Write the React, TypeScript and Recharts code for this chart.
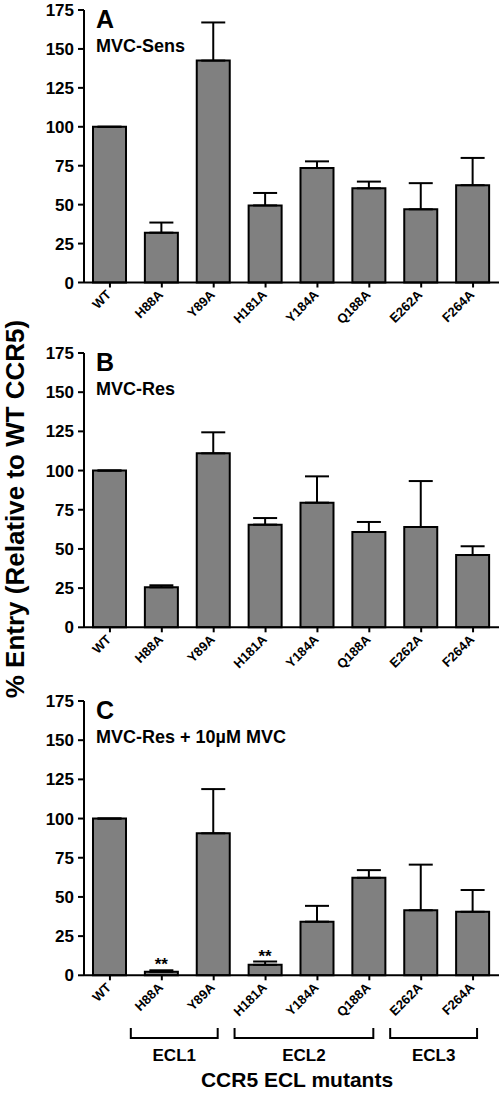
import { BarChart, Bar, XAxis, YAxis, ErrorBar, LabelList } from 'recharts'

const FONT = '"Liberation Sans", Arial, Helvetica, sans-serif'

const MUTANTS = ['WT', 'H88A', 'Y89A', 'H181A', 'Y184A', 'Q188A', 'E262A', 'F264A']
const SENS_MEAN = [100, 32, 142.5, 49.5, 73.5, 60.5, 47, 62.5]
const SENS_SEM = [0, 6.5, 24.5, 8, 4.3, 4.3, 16.8, 17.5]
const RES_MEAN = [100, 25.5, 111, 65.5, 79.5, 60.8, 64, 46.1]
const RES_SEM = [0, 1.3, 13.4, 4.2, 16.8, 6.4, 29.3, 5.6]
const MVC_MEAN = [100, 2.2, 90.6, 6.7, 34.2, 62.2, 41.5, 40.5]
const MVC_SEM = [0, 1, 28.2, 2.1, 10.1, 4.9, 29.1, 13.9]
const MVC_SIG = ['', '**', '', '**', '', '', '', '']
const Y_TICKS = [0, 25, 50, 75, 100, 125, 150, 175]
const LOOP_NAMES = ['ECL1', 'ECL2', 'ECL3']
const LOOP_FIRST = [1, 3, 6]
const LOOP_LAST = [2, 5, 7]

// plot area geometry (shared by all three panels)
const PLOT_LEFT = 84
const PLOT_W = 415
const BAND = PLOT_W / MUTANTS.length
const PLOT_TOPS = [9.5, 352.7, 700.7]
const PLOT_BOTTOMS = [282, 627, 975]
const TOP_PAD = 17
const X_AXIS_H = 58

function MutantTick(props: any) {
  const { x, y, payload } = props
  const ox = x + 2
  const oy = y + 6
  return (
    <text
      x={ox}
      y={oy}
      textAnchor="end"
      transform={`rotate(-45, ${ox}, ${oy})`}
      fontSize={13}
      fontWeight="bold"
      fontFamily={FONT}
      fill="#000"
    >
      {payload.value}
    </text>
  )
}

function ValueTick(props: any) {
  const { x, y, payload } = props
  return (
    <text x={x} y={y} dy={6} textAnchor="end" fontSize={17} fontWeight="bold" fontFamily={FONT} fill="#000">
      {payload.value}
    </text>
  )
}

function Panel({ plotTop, plotBottom, mean, sem, sig }: { plotTop: number; plotBottom: number; mean: number[]; sem: number[]; sig?: string[] }) {
  const rows = MUTANTS.map((m, i) => ({
    name: m,
    value: mean[i],
    err: [0, sem[i]],
    sig: sig ? sig[i] : '',
  }))

  const renderSig = (p: any) => {
    const { x, y, width, height, value, index } = p
    if (!value) return null
    const row = rows[index]
    const unit = height / row.value
    const capY = y - row.err[1] * unit
    return (
      <text x={x + width / 2} y={capY} textAnchor="middle" fontSize={17} fontWeight="bold" fontFamily={FONT} fill="#000">
        {value}
      </text>
    )
  }

  const top = plotTop - TOP_PAD
  const h = plotBottom + X_AXIS_H - top

  return (
    <div style={{ position: 'absolute', left: 0, top, width: 500, height: h }}>
      <BarChart width={500} height={h} data={rows} margin={{ top: TOP_PAD, right: 1, bottom: 0, left: 0 }} barSize={33}>
        <XAxis
          dataKey="name"
          height={X_AXIS_H}
          interval={0}
          tick={<MutantTick />}
          tickSize={5}
          axisLine={{ stroke: '#000', strokeWidth: 2 }}
          tickLine={{ stroke: '#000', strokeWidth: 2 }}
        />
        <YAxis
          width={84}
          domain={[0, 175]}
          ticks={Y_TICKS}
          interval={0}
          tickSize={6}
          tickMargin={4}
          axisLine={{ stroke: '#000', strokeWidth: 2 }}
          tickLine={{ stroke: '#000', strokeWidth: 2 }}
          tick={<ValueTick />}
        />
        <Bar dataKey="value" fill="#808080" stroke="#000" strokeWidth={2} isAnimationActive={false}>
          <ErrorBar dataKey="err" width={12} stroke="#000" strokeWidth={2} direction="y" isAnimationActive={false} />
          {sig && <LabelList dataKey="sig" content={renderSig} />}
        </Bar>
      </BarChart>
    </div>
  )
}

export default function App() {
  const letters = ['A', 'B', 'C']
  const titles = ['MVC-Sens', 'MVC-Res', 'MVC-Res + 10µM MVC']
  const center = (i: number) => PLOT_LEFT + BAND * (i + 0.5)

  return (
    <div style={{ position: 'absolute', left: 0, top: 0, width: 500, height: 1093, background: '#fff', overflow: 'hidden' }}>
      <Panel plotTop={PLOT_TOPS[0]} plotBottom={PLOT_BOTTOMS[0]} mean={SENS_MEAN} sem={SENS_SEM} />
      <Panel plotTop={PLOT_TOPS[1]} plotBottom={PLOT_BOTTOMS[1]} mean={RES_MEAN} sem={RES_SEM} />
      <Panel plotTop={PLOT_TOPS[2]} plotBottom={PLOT_BOTTOMS[2]} mean={MVC_MEAN} sem={MVC_SEM} sig={MVC_SIG} />

      <svg width={500} height={1093} style={{ position: 'absolute', left: 0, top: 0, pointerEvents: 'none' }}>
        <g fontFamily={FONT} fontWeight="bold" fill="#000">
          {PLOT_TOPS.map((t, i) => (
            <g key={letters[i]}>
              <text x={96} y={t + 18} fontSize={25}>{letters[i]}</text>
              <text x={96} y={t + 42} fontSize={18}>{titles[i]}</text>
            </g>
          ))}

          <text x={24} y={509} fontSize={26} textAnchor="middle" transform="rotate(-90, 24, 509)">
            % Entry (Relative to WT CCR5)
          </text>

          {LOOP_NAMES.map((name, i) => {
            const x1 = center(LOOP_FIRST[i]) - 31
            const x2 = center(LOOP_LAST[i]) + 4
            return (
              <g key={name}>
                <path d={`M${x1},1028 L${x1},1038 L${x2},1038 L${x2},1028`} fill="none" stroke="#000" strokeWidth={2} />
                <text x={(x1 + x2) / 2} y={1061} fontSize={17} textAnchor="middle">{name}</text>
              </g>
            )
          })}

          <text x={297} y={1087} fontSize={21} textAnchor="middle">CCR5 ECL mutants</text>
        </g>
      </svg>
    </div>
  )
}
